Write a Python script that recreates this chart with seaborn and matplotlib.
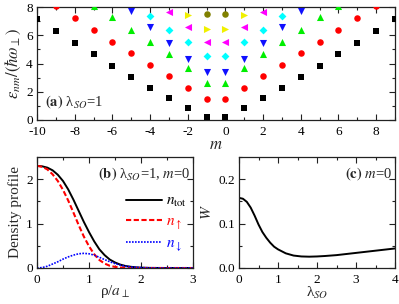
import numpy as np
import pandas as pd
import seaborn as sns
import matplotlib
matplotlib.use("Agg")
import matplotlib.pyplot as plt
from matplotlib.ticker import MultipleLocator, FormatStrFormatter

# ---------------- data ----------------
# panel (a): energy levels vs m (lambda_SO = 1)
m_black = list(range(-10, 10))
E_black = [7.13, 6.28, 5.46, 4.66, 3.84, 3.04, 2.26, 1.53, 0.85, 0.21,
           0.21, 0.85, 1.53, 2.26, 3.04, 3.84, 4.66, 5.46, 6.28, 7.13]
m_red = list(range(-9, 9))
E_red = [8.05, 7.20, 6.38, 5.53, 4.73, 3.90, 3.10, 2.30, 1.48,
         1.48, 2.30, 3.10, 3.90, 4.73, 5.53, 6.38, 7.20, 8.05]
m_green = list(range(-7, 7))
E_green = [8.10, 7.30, 6.40, 5.55, 4.70, 3.70, 2.60,
           2.60, 3.70, 4.70, 5.55, 6.40, 7.30, 8.10]
m_blue = list(range(-5, 5))
E_blue = [7.75, 6.60, 5.45, 4.35, 3.40, 3.40, 4.35, 5.45, 6.60, 7.75]
m_cyan = list(range(-4, 4))
E_cyan = [7.35, 6.40, 5.50, 4.50, 4.50, 5.50, 6.40, 7.35]
m_magenta = list(range(-3, 3))
E_magenta = [7.62, 6.60, 5.50, 5.50, 6.60, 7.62]
m_yellow = list(range(-2, 2))
E_yellow = [7.40, 6.47, 6.47, 7.40]
m_olive = [-1, 0]
E_olive = [7.53, 7.53]

# panel (b): density profiles
rho = [0, 0.1, 0.2, 0.3, 0.4, 0.5, 0.6, 0.7, 0.8, 0.9, 1.0, 1.1, 1.2, 1.3,
       1.4, 1.5, 1.6, 1.7, 1.8, 1.9, 2.0, 2.2, 2.5, 3.0]
n_up = [2.30, 2.28, 2.22, 2.11, 1.96, 1.76, 1.52, 1.25, 0.97, 0.71, 0.49,
        0.31, 0.18, 0.10, 0.05, 0.025, 0.012, 0.006, 0.003, 0.001, 0, 0, 0, 0]
n_down = [0, 0.01, 0.04, 0.09, 0.14, 0.20, 0.25, 0.29, 0.32, 0.33, 0.32,
          0.29, 0.24, 0.19, 0.14, 0.10, 0.065, 0.04, 0.025, 0.015, 0.008,
          0.002, 0, 0]
n_tot = [2.30, 2.29, 2.26, 2.20, 2.10, 1.96, 1.77, 1.54, 1.29, 1.04, 0.81,
         0.60, 0.42, 0.29, 0.19, 0.125, 0.077, 0.046, 0.028, 0.016, 0.008,
         0.002, 0, 0]

# panel (c): W vs lambda_SO
lam = [0, 0.1, 0.2, 0.3, 0.4, 0.5, 0.6, 0.7, 0.8, 0.9, 1.0, 1.2, 1.4, 1.6,
       1.8, 2.0, 2.2, 2.5, 3.0, 3.5, 4.0]
W = [0.158, 0.156, 0.149, 0.136, 0.118, 0.098, 0.081, 0.068, 0.057, 0.048,
     0.042, 0.033, 0.028, 0.026, 0.0255, 0.026, 0.027, 0.029, 0.034,
     0.039, 0.044]

# ---------------- style ----------------
sns.set_theme(style="ticks")
plt.rcParams.update({
    "font.family": ["Liberation Serif", "DejaVu Serif"],
    "mathtext.fontset": "stix",
    "axes.unicode_minus": False,
    "xtick.direction": "in",
    "ytick.direction": "in",
    "xtick.top": True,
    "ytick.right": True,
    "xtick.major.size": 4,
    "ytick.major.size": 4,
    "xtick.minor.size": 2,
    "ytick.minor.size": 2,
    "xtick.major.width": 0.8,
    "ytick.major.width": 0.8,
    "xtick.minor.width": 0.8,
    "ytick.minor.width": 0.8,
    "xtick.labelsize": 9.5,
    "ytick.labelsize": 9.5,
    "axes.linewidth": 0.9,
    "axes.edgecolor": "#222222",
    "xtick.color": "#222222",
    "ytick.color": "#222222",
    "xtick.labelcolor": "black",
    "ytick.labelcolor": "black",
    "xtick.major.pad": 4.5,
    "ytick.major.pad": 3,
})

W_PX, H_PX = 399, 304
fig = plt.figure(figsize=(W_PX / 100, H_PX / 100), dpi=100)


def px_axes(l, r, t, b):
    return fig.add_axes([l / W_PX, 1 - b / H_PX, (r - l) / W_PX, (b - t) / H_PX])


ax_a = px_axes(37, 395, 7, 120)
ax_b = px_axes(37, 193, 157, 268)
ax_c = px_axes(239, 395, 157, 268)

# ---------------- panel (a) ----------------
levels = [
    ("L0", m_black, E_black, "black", "s", 16),
    ("L1", m_red, E_red, "#ff0000", "o", 22),
    ("L2", m_green, E_green, "#00ee00", "^", 26),
    ("L3", m_blue, E_blue, "#1010ff", "v", 26),
    ("L4", m_cyan, E_cyan, "#00ffff", "D", 16),
    ("L5", m_magenta, E_magenta, "#ff00ff", "<", 26),
    ("L6", m_yellow, E_yellow, "#f0f000", ">", 26),
    ("L7", m_olive, E_olive, "#808000", "o", 22),
]
rows = []
for name, ms, es, _, _, _ in levels:
    for mm, ee in zip(ms, es):
        rows.append({"m": mm, "E": ee, "level": name})
df_a = pd.DataFrame(rows)
for name, _, _, col, mk, sz in levels:
    sub = df_a[df_a["level"] == name]
    sns.scatterplot(data=sub, x="m", y="E", color=col, marker=mk, s=sz,
                    linewidth=0, ax=ax_a, legend=False, zorder=3)
ax_a.set_xlim(-10, 9)
ax_a.set_ylim(0, 8)
ax_a.xaxis.set_major_locator(MultipleLocator(2))
ax_a.xaxis.set_minor_locator(MultipleLocator(1))
ax_a.yaxis.set_major_locator(MultipleLocator(2))
ax_a.yaxis.set_minor_locator(MultipleLocator(1))
ax_a.set_xlabel(r"$m$", fontsize=12, labelpad=-1)
ax_a.set_ylabel(r"$\varepsilon_{nm}/(\hbar\omega_{\perp})$", fontsize=12, labelpad=2)
ax_a.text(0.022, 0.16, r"$\mathbf{(a)}$ λ$_{SO}$=1", transform=ax_a.transAxes,
          fontsize=10.5, ha="left", va="center")

# ---------------- panel (b) ----------------
df_b = pd.DataFrame({"rho": rho, "tot": n_tot, "up": n_up, "down": n_down})
sns.lineplot(data=df_b, x="rho", y="tot", ax=ax_b, color="black", lw=1.4,
             label=r"$n_{\rm tot}$")
sns.lineplot(data=df_b, x="rho", y="up", ax=ax_b, color="#ff0000", lw=1.5,
             label=r"$n_{\uparrow}$")
sns.lineplot(data=df_b, x="rho", y="down", ax=ax_b, color="#0000ff", lw=1.2,
             label=r"$n_{\downarrow}$")
ax_b.lines[1].set_linestyle((0, (2.5, 1.2)))
ax_b.lines[2].set_linestyle((0, (1, 0.8)))
ax_b.set_xlim(0, 3)
ax_b.set_ylim(0, 2.5)
ax_b.xaxis.set_major_locator(MultipleLocator(1))
ax_b.xaxis.set_minor_locator(MultipleLocator(0.5))
ax_b.yaxis.set_major_locator(MultipleLocator(1))
ax_b.yaxis.set_minor_locator(MultipleLocator(0.5))
ax_b.set_xlabel(r"ρ/$a_{\perp}$", fontsize=11, labelpad=-2)
ax_b.set_ylabel("Density profile", fontsize=11, labelpad=3)
ax_b.text(0.985, 0.85, r"$\mathbf{(b)}$ λ$_{SO}$=1, $m$=0", transform=ax_b.transAxes,
          fontsize=10.5, ha="right", va="center")
leg = ax_b.legend(loc="upper right", bbox_to_anchor=(1.03, 0.76), frameon=False,
                  fontsize=11, handlelength=2.4, handletextpad=0.25,
                  labelspacing=0.35, borderpad=0.2)
for t, c in zip(leg.get_texts(), ["black", "#ff0000", "#0000ff"]):
    t.set_color(c)

# ---------------- panel (c) ----------------
df_c = pd.DataFrame({"lam": lam, "W": W})
sns.lineplot(data=df_c, x="lam", y="W", ax=ax_c, color="black", lw=1.4)
ax_c.set_xlim(0, 4)
ax_c.set_ylim(0, 0.25)
ax_c.xaxis.set_major_locator(MultipleLocator(1))
ax_c.xaxis.set_minor_locator(MultipleLocator(0.5))
ax_c.yaxis.set_major_locator(MultipleLocator(0.1))
ax_c.yaxis.set_minor_locator(MultipleLocator(0.05))
ax_c.yaxis.set_major_formatter(FormatStrFormatter("%.1f"))
ax_c.set_xlabel(r"λ$_{SO}$", fontsize=11, labelpad=-1)
ax_c.set_ylabel(r"$W$", fontsize=11, labelpad=3)
ax_c.text(0.98, 0.855, r"$\mathbf{(c)}$ $m$=0", transform=ax_c.transAxes,
          fontsize=10.5, ha="right", va="center")

for ax in (ax_a, ax_b, ax_c):
    ax.tick_params(which="both", top=True, right=True, direction="in")

fig.savefig("out.png", dpi=100)
